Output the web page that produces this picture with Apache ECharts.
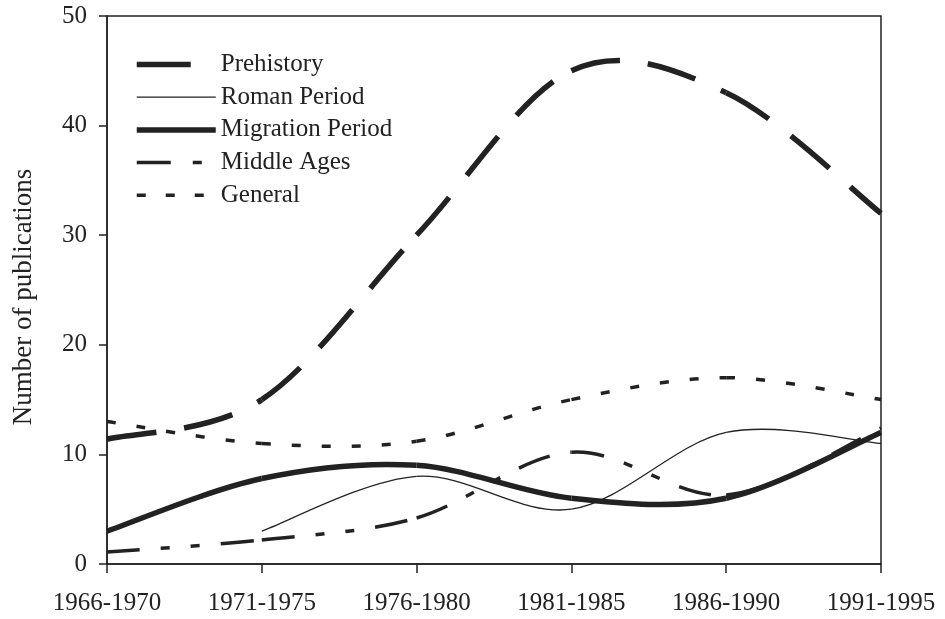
<!DOCTYPE html>
<html>
<head>
<meta charset="utf-8">
<script src="https://cdn.jsdelivr.net/npm/echarts@6/dist/echarts.min.js"></script>
<style>
  html, body { margin: 0; padding: 0; background: #fff; }
  #main { width: 945px; height: 619px; }
</style>
</head>
<body>
<div id="main"></div>
<script>
var periods = ['1966-1970', '1971-1975', '1976-1980', '1981-1985', '1986-1990', '1991-1995'];
var prehistory = [11.4, 15, 30, 45, 43, 32];
var roman = [null, 3, 8, 5, 12, 11];
var migration = [3, 7.8, 9, 6, 6, 12];
var middleAges = [1.1, 2.2, 4.2, 10.2, 6.3, 12.4];
var general = [13, 11, 11.2, 15, 17, 15];

var ink = '#222';
var serif = 'Liberation Serif, Times New Roman, serif';

// line styles: [width, dash]
var styles = {
  'Prehistory': [5.5, [50, 28]],
  'Roman Period': [1.3, null],
  'Migration Period': [5.5, null],
  'Middle Ages': [3.5, [33, 21, 9, 21, 9, 21]],
  'General': [3.5, [9, 21]]
};

// legend-only line series (no data), so the legend shows the line styles
function legendLine(name) {
  var s = styles[name];
  return {
    name: name,
    type: 'line',
    data: [],
    symbol: 'none',
    lineStyle: { color: ink, width: s[0], type: s[1] || 'solid' },
    itemStyle: { color: ink }
  };
}

// smooth curve like a spreadsheet chart: one bezier per segment, dash restarts at each point
function curve(name, values) {
  var s = styles[name];
  return {
    name: name,
    type: 'custom',
    coordinateSystem: 'cartesian2d',
    silent: true,
    data: values.map(function (v, i) { return [i, v == null ? 0 : v]; }),
    encode: { x: 0, y: 1 },
    renderItem: function (params, api) {
      var i = params.dataIndex;
      var ok = function (k) { return k >= 0 && k < values.length && values[k] != null; };
      if (!ok(i) || !ok(i + 1)) return null;
      var pt = function (k) { return api.coord([k, values[k]]); };
      var p1 = pt(i), p2 = pt(i + 1);
      var p0 = ok(i - 1) ? pt(i - 1) : p1;
      var p3 = ok(i + 2) ? pt(i + 2) : p2;
      return {
        type: 'bezierCurve',
        shape: {
          x1: p1[0], y1: p1[1], x2: p2[0], y2: p2[1],
          cpx1: p1[0] + (p2[0] - p0[0]) / 6, cpy1: p1[1] + (p2[1] - p0[1]) / 6,
          cpx2: p2[0] - (p3[0] - p1[0]) / 6, cpy2: p2[1] - (p3[1] - p1[1]) / 6
        },
        style: { fill: 'none', stroke: ink, lineWidth: s[0], lineDash: s[1], lineCap: 'butt' }
      };
    }
  };
}

var names = ['Prehistory', 'Roman Period', 'Migration Period', 'Middle Ages', 'General'];
var legendDash = {
  'Prehistory': [54, 40],
  'Middle Ages': [34, 22, 9, 40],
  'General': [9, 20]
};

var myChart = echarts.init(document.getElementById('main'));
myChart.setOption({
  animation: false,
  backgroundColor: '#fff',
  grid: {
    left: 107, right: 64, top: 16, bottom: 55,
    show: true, borderColor: ink, borderWidth: 1.5, backgroundColor: 'transparent'
  },
  legend: {
    orient: 'vertical',
    left: 134,
    top: 52,
    padding: 0,
    itemWidth: 79,
    itemHeight: 14,
    itemGap: 7.7,
    selectedMode: false,
    itemStyle: { color: 'rgba(0,0,0,0)', borderWidth: 0, opacity: 0 },
    textStyle: { fontFamily: serif, fontSize: 25, color: ink },
    data: names.map(function (n) {
      return {
        name: n,
        lineStyle: { color: ink, width: styles[n][0], type: legendDash[n] || 'solid', cap: 'butt' }
      };
    })
  },
  xAxis: {
    type: 'category',
    data: periods,
    boundaryGap: false,
    axisLine: { lineStyle: { color: ink, width: 1.5 } },
    axisTick: { alignWithLabel: true, length: 9, lineStyle: { color: ink, width: 1.5 } },
    axisLabel: { fontFamily: serif, fontSize: 25, color: ink, margin: 27 },
    splitLine: { show: false }
  },
  yAxis: {
    type: 'value',
    min: 0,
    max: 50,
    interval: 10,
    name: 'Number of publications',
    nameLocation: 'middle',
    nameGap: 70,
    nameTextStyle: { fontFamily: serif, fontSize: 27, color: ink, padding: [0, 14, 0, 0] },
    axisLine: { show: true, lineStyle: { color: ink, width: 1.5 } },
    axisTick: { show: true, length: 8, lineStyle: { color: ink, width: 1.5 } },
    axisLabel: { fontFamily: serif, fontSize: 25, color: ink, margin: 20 },
    splitLine: { show: false }
  },
  series: names.map(legendLine).concat([
    curve('Prehistory', prehistory),
    curve('Roman Period', roman),
    curve('Migration Period', migration),
    curve('Middle Ages', middleAges),
    curve('General', general)
  ])
});
</script>
</body>
</html>
